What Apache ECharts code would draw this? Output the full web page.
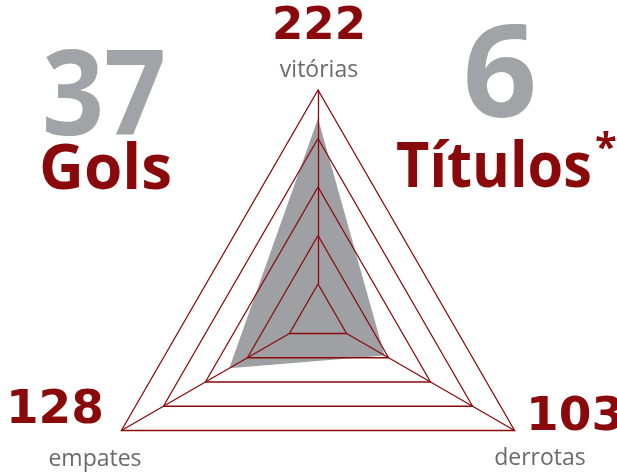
<!DOCTYPE html>
<html>
<head>
<meta charset="utf-8">
<script src="https://cdn.jsdelivr.net/npm/echarts@6/dist/echarts.min.js"></script>
<style>
  html, body { margin: 0; padding: 0; background: #fff; }
  #chart { width: 617px; height: 475px; }
</style>
</head>
<body>
<div id="chart"></div>
<script>
// dados do gráfico
var indicatorNames = ['vitórias', 'empates', 'derrotas'];
var resultValues = [222, 128, 103];
var axisMin = 60, axisMax = 250;   // escala dos eixos do radar
var statValues = [37, 6];
var statLabels = ['Gols', 'Títulos'];

var RED = '#8a0a0b';
var GREY_BIG = '#a2a3a6';
var GREY_TXT = '#6b6b6b';

var nameFont = '23px "Open Sans", "Noto Sans", sans-serif';

function txt(str, x, y, font, fill, align, sx) {
    return {
        type: 'text',
        x: x, y: y,
        scaleX: sx || 1,
        style: {
            text: str,
            font: font,
            fill: fill,
            align: align || 'center',
            verticalAlign: 'middle'
        }
    };
}

var option = {
    backgroundColor: '#fff',
    animation: false,
    radar: {
        center: [318, 317],
        radius: [33, 227],
        startAngle: 90,
        shape: 'polygon',
        splitNumber: 4,
        z: 5,
        indicator: indicatorNames.map(function (n) {
            return { name: n, min: axisMin, max: axisMax };
        }),
        axisName: { show: false },
        splitArea: { show: false },
        splitLine: { lineStyle: { color: RED, width: 1.3 } },
        axisLine: { lineStyle: { color: RED, width: 1.3 } },
        axisTick: { show: false },
        axisLabel: { show: false }
    },
    series: [{
        type: 'radar',
        z: 2,
        symbol: 'none',
        lineStyle: { width: 0, opacity: 0 },
        areaStyle: { color: '#9fa0a4', opacity: 1 },
        data: [{ value: resultValues, name: 'Resultados' }]
    }],
    graphic: [
        // números e nomes dos eixos
        txt(String(resultValues[0]), 319, 27, 'bold 45px "DejaVu Sans", sans-serif', RED),
        txt(indicatorNames[0], 319, 70, nameFont, GREY_TXT),
        txt(String(resultValues[1]), 104, 411, 'bold 47px "DejaVu Sans", sans-serif', RED, 'right'),
        txt(indicatorNames[1], 95, 459, nameFont, GREY_TXT),
        txt(String(resultValues[2]), 526, 418, 'bold 47px "DejaVu Sans", sans-serif', RED, 'left'),
        txt(indicatorNames[2], 540, 458, nameFont, GREY_TXT),
        // destaques
        txt(String(statValues[0]), 42, 101, 'bold 118px "Open Sans", sans-serif', GREY_BIG, 'left', 0.92),
        txt(statLabels[0], 39, 171, 'bold 62px "Open Sans", sans-serif', RED, 'left'),
        txt(String(statValues[1]), 500, 80, 'bold 130px "Open Sans", sans-serif', GREY_BIG),
        txt(statLabels[1], 396, 169, 'bold 62px "Open Sans", sans-serif', RED, 'left', 0.93),
        txt('*', 606, 150, 'bold 40px "Open Sans", sans-serif', RED)
    ]
};

var chart = echarts.init(document.getElementById('chart'));
chart.setOption(option);
</script>
</body>
</html>
